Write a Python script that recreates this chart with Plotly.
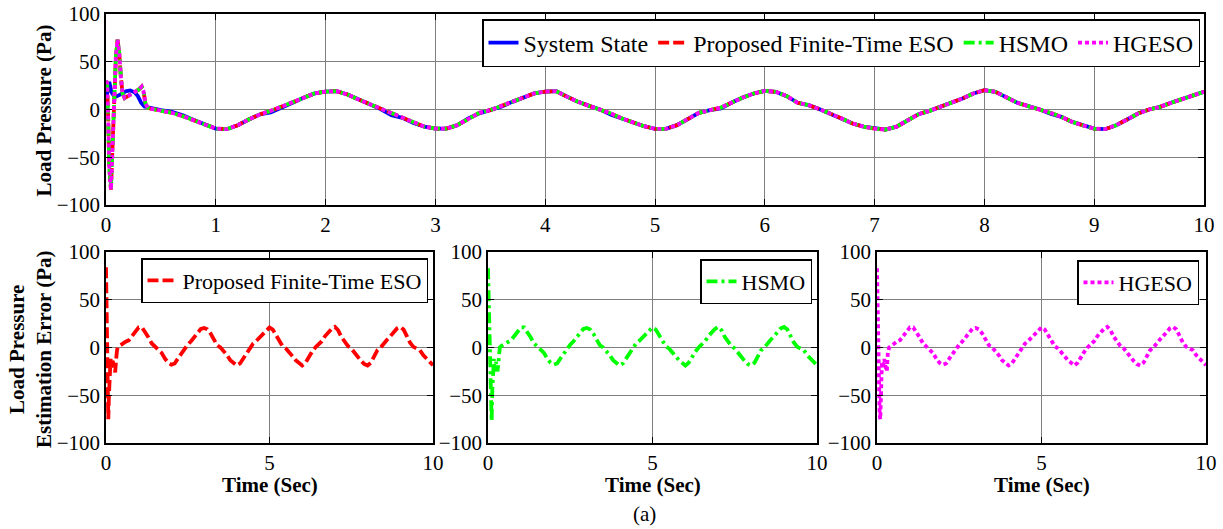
import numpy as np
import plotly.graph_objects as go

# ---------------- data ----------------
# top panel: transient part
state_tr_t = [0.0, 0.01, 0.03, 0.05, 0.08, 0.12, 0.18, 0.22, 0.26, 0.29, 0.32, 0.35, 0.40, 0.45]
state_tr_v = [10, 15, 29, 18, 13, 15, 19, 20, 18, 14, 7, 3, 1.5, 0.5]

est_tr_t = [0.0, 0.01, 0.02, 0.03, 0.045, 0.06, 0.075, 0.09, 0.105, 0.12, 0.135, 0.15,
            0.17, 0.2, 0.25, 0.3, 0.325, 0.34, 0.36, 0.38, 0.4, 0.45]
est_tr_v = [30, 28, -10, -60, -84, -40, 20, 55, 73, 60, 35, 17,
            12, 14, 18, 21, 24, 20, 6, 2, 1, 0]

# steady part, t = 0.5 ... 10.0 every 0.1 s
steady_t = list(np.round(np.arange(0.5, 10.0001, 0.1), 2))

state_ss = [-0.7, -2.5, -6, -11, -16, -20, -20.6, -16.4, -10.5, -5.2,
            -3, 1.5, 7, 12.2, 16.8, 18.8, 19.2, 15.7, 10.5, 5.6,
            0.5, -6, -8.7, -14, -18, -20, -20, -16.4, -9.4, -4,
            -0.7, 3, 8, 12.6, 16.8, 18.8, 19.2, 13.3, 8, 3.8,
            0, -5.5, -9.4, -13.6, -17.5, -20.2, -20.2, -16.4, -9.4, -3.5,
            -0.7, 1, 7.3, 12.6, 16.8, 19.5, 18.5, 14, 7, 4.5,
            0.3, -5, -9.4, -14.7, -18, -20, -21, -18, -11, -4.9,
            -1.4, 2.8, 8, 11.5, 16.8, 20.2, 18.5, 13.3, 7, 3.5,
            0.3, -4.5, -7.7, -13, -16.8, -20, -20.6, -16.4, -10.5, -4.2,
            0, 2.8, 7, 10.5, 15, 18.5]

est_ss = [-0.5, -3.5, -7, -11, -16, -20, -20.6, -16.4, -10.5, -5.2,
          -1.4, 2.8, 7, 12.2, 16.8, 18.8, 19.2, 15.7, 10.5, 5.6,
          1, -4.2, -8.7, -14, -18, -20, -20, -16.4, -9.4, -3.5,
          -0.7, 3.5, 8, 12.6, 16.8, 18.8, 19.2, 13.3, 8, 3.8,
          0, -4.2, -9.4, -13.6, -17.5, -20.2, -20.2, -16.4, -9.4, -3.5,
          -0.7, 2, 7.3, 12.6, 16.8, 19.5, 18.5, 14, 7, 4.5,
          0.3, -4.2, -9.4, -14.7, -18, -20, -21, -18, -11, -4.9,
          -1.4, 2.8, 8, 11.5, 16.8, 20.2, 18.5, 13.3, 7, 3.5,
          0.3, -3.5, -7.7, -13, -16.8, -20, -20.6, -16.4, -10.5, -4.2,
          0, 2.8, 7, 10.5, 15, 18.5]

# bottom panels: estimation error
fte_tr_t = [0.0, 0.01, 0.02, 0.035, 0.05, 0.07, 0.09, 0.11, 0.14, 0.17, 0.2, 0.24, 0.28, 0.31, 0.34, 0.38, 0.45]
fte_tr_v = [84, 60, 20, -30, -60, -75, -50, -25, -12, -22, -14, -18, -26, -12, -2, 1, 3]

hsmo_tr_t = [0.0, 0.02, 0.04, 0.06, 0.09, 0.11, 0.13, 0.15, 0.18, 0.21, 0.25, 0.29, 0.32, 0.36, 0.42]
hsmo_tr_v = [83, 50, 0, -40, -65, -77, -45, -20, -12, -25, -15, -25, -8, 0, 2]

hgeso_tr_t = [0.0, 0.02, 0.04, 0.06, 0.08, 0.1, 0.12, 0.15, 0.18, 0.22, 0.26, 0.3, 0.33, 0.37, 0.45]
hgeso_tr_v = [83, 40, -10, -50, -70, -75, -40, -15, -22, -12, -20, -25, -5, 0, 2]

err_ss = [3.5, 6, 7.7, 12, 17, 21, 21, 16.4, 10.5, 4.2,
          0.7, -2.8, -5.6, -11.5, -16, -18, -16.7, -11.5, -6.3, -1,
          3, 6.6, 10.5, 15.3, 19.5, 20.5, 19, 14.6, 8.4, 2.4,
          0, -3.5, -8, -13.2, -16.7, -18.8, -16.7, -11.5, -5.6, -1,
          4.2, 7, 10.5, 14, 18, 21, 18.8, 12.9, 7, 1.4,
          -1, -4.5, -9, -13.2, -16.7, -18.8, -16, -9.8, -4.5, 0,
          3, 6.6, 12, 16.4, 19.5, 21.6, 18, 11, 6, 1.4,
          -1, -5.6, -9.8, -14, -17.4, -18.8, -16, -9, -2.8, 0,
          3.5, 8.4, 12, 16.4, 20, 21.6, 18.8, 12, 4.9, 0.7,
          -1, -2.8, -8, -11.5, -15, -18.5]

top_xticks = [0, 1, 2, 3, 4, 5, 6, 7, 8, 9, 10]
bot_xticks = [0, 5, 10]
yticks = [-100, -50, 0, 50, 100]

# ---------------- figure ----------------
W, H = 1223, 529
FONT = "Liberation Serif"
BLUE, RED, GREEN, MAG = "#0000FF", "#FF0000", "#00FF00", "#FF00FF"
DASH = "11px,4px"
DASHDOT = "11px,4px,3px,4px"
DOT = "4px,3px"

fig = go.Figure()
lw = 3.8

fig.add_trace(go.Scatter(x=state_tr_t + steady_t, y=state_tr_v + state_ss, mode="lines",
                         name="System State", line=dict(color=BLUE, width=lw),
                         xaxis="x", yaxis="y", legend="legend"))
fig.add_trace(go.Scatter(x=est_tr_t + steady_t, y=est_tr_v + est_ss, mode="lines",
                         name="Proposed Finite-Time ESO", line=dict(color=RED, width=lw, dash=DASH),
                         xaxis="x", yaxis="y", legend="legend"))
fig.add_trace(go.Scatter(x=est_tr_t + steady_t, y=est_tr_v + est_ss, mode="lines",
                         name="HSMO", line=dict(color=GREEN, width=lw, dash=DASHDOT),
                         xaxis="x", yaxis="y", legend="legend"))
fig.add_trace(go.Scatter(x=est_tr_t + steady_t, y=est_tr_v + est_ss, mode="lines",
                         name="HGESO", line=dict(color=MAG, width=lw, dash=DOT),
                         xaxis="x", yaxis="y", legend="legend"))

fig.add_trace(go.Scatter(x=fte_tr_t + steady_t, y=fte_tr_v + err_ss, mode="lines",
                         name="Proposed Finite-Time ESO", line=dict(color=RED, width=lw, dash=DASH),
                         xaxis="x2", yaxis="y2", legend="legend2"))
fig.add_trace(go.Scatter(x=hsmo_tr_t + steady_t, y=hsmo_tr_v + err_ss, mode="lines",
                         name="HSMO", line=dict(color=GREEN, width=lw, dash=DASHDOT),
                         xaxis="x3", yaxis="y3", legend="legend3"))
fig.add_trace(go.Scatter(x=hgeso_tr_t + steady_t, y=hgeso_tr_v + err_ss, mode="lines",
                         name="HGESO", line=dict(color=MAG, width=lw, dash=DOT),
                         xaxis="x4", yaxis="y4", legend="legend4"))


def px(x):
    return x / W


def py(y):
    return 1 - y / H


tickfont = dict(family=FONT, size=21, color="black")
common = dict(showline=True, linecolor="black", linewidth=1.5, mirror="allticks",
              ticks="inside", ticklen=6, tickwidth=1, tickcolor="black",
              showgrid=True, gridcolor="#7f7f7f", gridwidth=1, zeroline=False,
              tickfont=tickfont, automargin=False, fixedrange=True)

top_y = [py(205), py(14)]
bot_y = [py(443), py(252)]

fig.update_layout(
    width=W, height=H, autosize=False,
    margin=dict(l=0, r=0, t=0, b=0, pad=0),
    paper_bgcolor="white", plot_bgcolor="white",
    font=dict(family=FONT, color="black"),
    xaxis=dict(domain=[px(106), px(1204)], range=[0, 10], tickvals=top_xticks, anchor="y", **common),
    yaxis=dict(domain=top_y, range=[-100, 100], tickvals=yticks, anchor="x", **common),
    xaxis2=dict(domain=[px(106), px(433)], range=[0, 10], tickvals=bot_xticks, anchor="y2", **common),
    yaxis2=dict(domain=bot_y, range=[-100, 100], tickvals=yticks, anchor="x2", **common),
    xaxis3=dict(domain=[px(488), px(817)], range=[0, 10], tickvals=bot_xticks, anchor="y3", **common),
    yaxis3=dict(domain=bot_y, range=[-100, 100], tickvals=yticks, anchor="x3", **common),
    xaxis4=dict(domain=[px(877), px(1206)], range=[0, 10], tickvals=bot_xticks, anchor="y4", **common),
    yaxis4=dict(domain=bot_y, range=[-100, 100], tickvals=yticks, anchor="x4", **common),
)

leg_common = dict(bgcolor="white", bordercolor="black", borderwidth=1.5,
                  xanchor="right", yanchor="top")
fig.update_layout(
    legend=dict(orientation="h", x=px(1200), y=py(19),
                font=dict(family=FONT, size=24, color="black"), **leg_common),
    legend2=dict(x=px(428), y=py(258), font=dict(family=FONT, size=22, color="black"), **leg_common),
    legend3=dict(x=px(812), y=py(259), font=dict(family=FONT, size=22, color="black"), **leg_common),
    legend4=dict(x=px(1199), y=py(260), font=dict(family=FONT, size=22, color="black"), **leg_common),
)

ann_font = dict(family=FONT, size=21, color="black")
annotations = [
    dict(text="<b>Load Pressure (Pa)</b>", x=px(43.5), y=py(111), textangle=-90),
    dict(text="<b>Load Pressure<br>Estimation Error (Pa)</b>", x=px(30), y=py(349), textangle=-90),
    dict(text="<b>Time (Sec)</b>", x=px(269.5), y=py(485)),
    dict(text="<b>Time (Sec)</b>", x=px(652.5), y=py(485)),
    dict(text="<b>Time (Sec)</b>", x=px(1041.5), y=py(485)),
    dict(text="(a)", x=px(644), y=py(514)),
]
for a in annotations:
    fig.add_annotation(xref="paper", yref="paper", showarrow=False,
                       xanchor="center", yanchor="middle", font=ann_font, **a)

fig.write_html("out.html")
